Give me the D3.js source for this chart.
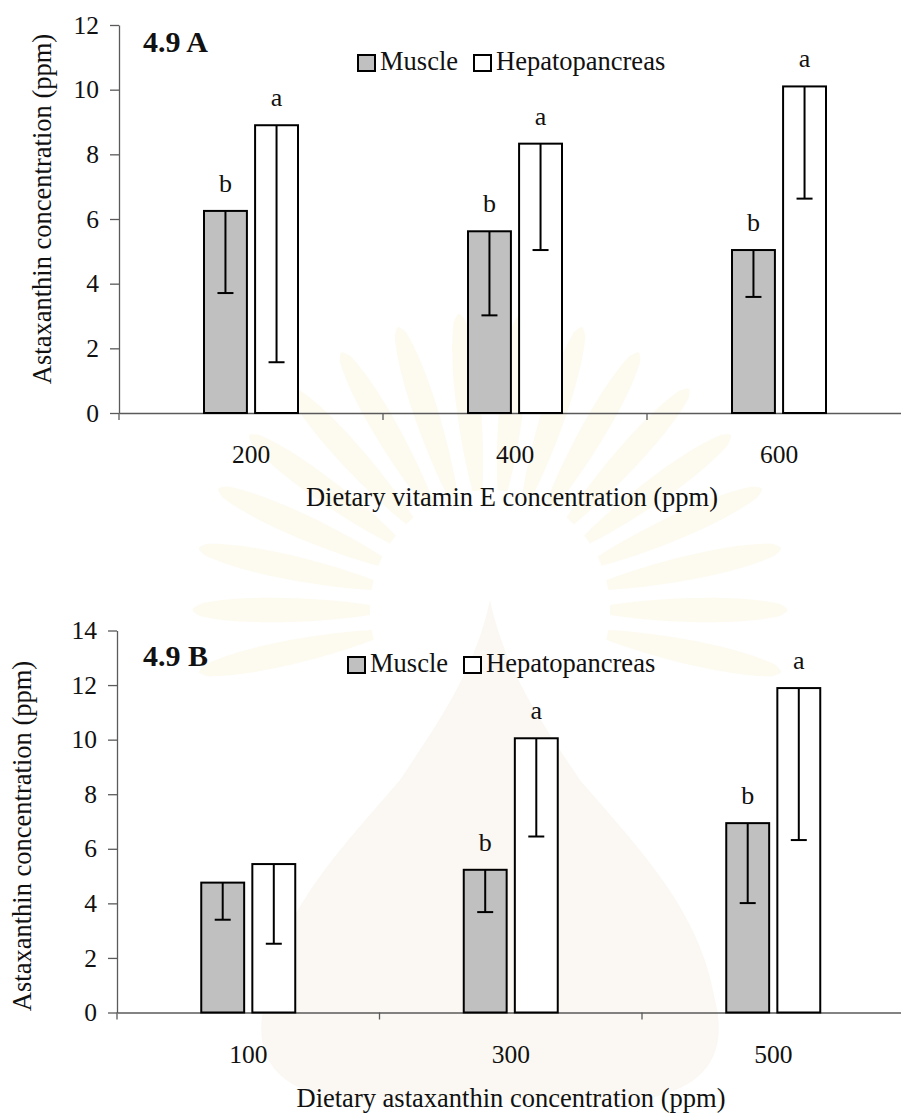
<!DOCTYPE html>
<html>
<head>
<meta charset="utf-8">
<script src="https://cdn.jsdelivr.net/npm/d3@7"></script>
<style>
body { margin: 0; background: #fff; }
svg { display: block; font-family: "Liberation Serif", "Times New Roman", serif; }
</style>
</head>
<body>
<svg id="chart" width="901" height="1115"></svg>
<script>
var series = ["Muscle", "Hepatopancreas"];

// 4.9 A : dietary vitamin E
var doseA = ["200", "400", "600"];
var muscleA = [6.25, 5.62, 5.04];
var muscleErrA = [2.54, 2.60, 1.45];
var hepatoA = [8.90, 8.33, 10.10];
var hepatoErrA = [7.33, 3.29, 3.47];
var muscleLetterA = ["b", "b", "b"];
var hepatoLetterA = ["a", "a", "a"];
var yTicksA = [0, 2, 4, 6, 8, 10, 12];

// 4.9 B : dietary astaxanthin
var doseB = ["100", "300", "500"];
var muscleB = [4.76, 5.23, 6.94];
var muscleErrB = [1.36, 1.55, 2.93];
var hepatoB = [5.44, 10.05, 11.89];
var hepatoErrB = [2.92, 3.60, 5.57];
var muscleLetterB = ["", "b", "b"];
var hepatoLetterB = ["", "a", "a"];
var yTicksB = [0, 2, 4, 6, 8, 10, 12, 14];

var fills = {"Muscle": "#c0c0c0", "Hepatopancreas": "#ffffff"};
var axisColor = "#5a5a5a";

var svg = d3.select("#chart");

// very faint watermark in the background
var wm = svg.append("g").attr("class", "watermark");
var cx = 490, cy = 610;
d3.range(-192, 15, 12).forEach(function (a) {
    wm.append("path")
        .attr("d", "M0,-5 C50,-13 130,-16 170,-6 C180,0 180,0 170,6 C130,16 50,13 0,5 Z")
        .attr("transform", "translate(" + cx + "," + cy + ")rotate(" + a + ")translate(120,0)")
        .attr("fill", "#fbf3dc")
        .attr("opacity", 0.45);
});
wm.append("path")
    .attr("d", "M490,600 C505,670 540,720 580,780 C640,850 700,910 715,1000 C730,1060 700,1090 640,1100 L340,1100 C280,1090 250,1060 265,1000 C280,910 340,850 400,780 C440,720 475,670 490,600 Z")
    .attr("fill", "#f7f3ea")
    .attr("opacity", 0.55);

function drawPanel(o) {
    var g = svg.append("g").attr("transform", "translate(" + o.left + "," + o.top + ")");

    var x = d3.scaleBand().domain(o.cats).range([0, o.band * o.cats.length]);
    var x1 = d3.scaleBand().domain(series).range([0, 94]).paddingInner(0.16);
    var y = d3.scaleLinear().domain([0, o.yMax]).range([o.height, 0]);
    var off = x.bandwidth() / 2 - 47;

    // y axis
    var ya = g.append("g")
        .call(d3.axisLeft(y).tickValues(o.yTicks).tickSize(9).tickSizeOuter(0).tickPadding(11));
    ya.select(".domain").attr("stroke", axisColor).attr("stroke-width", 1.3);
    ya.selectAll(".tick line").attr("stroke", axisColor).attr("stroke-width", 1.3);
    ya.selectAll(".tick text").attr("font-size", 25.5).attr("font-family", "Liberation Serif").attr("fill", "#111");

    // x axis
    var xa = g.append("g").attr("transform", "translate(0," + o.height + ")")
        .call(d3.axisBottom(x).tickSize(0).tickPadding(32));
    xa.select(".domain").attr("stroke", axisColor).attr("stroke-width", 1.3);
    xa.selectAll(".tick text").attr("font-size", 25.5).attr("font-family", "Liberation Serif").attr("fill", "#111");
    var edges = o.cats.map(function (c) { return x(c); }).concat([x.range()[1]]);
    xa.selectAll("line.edge").data(edges).enter().append("line")
        .attr("class", "edge")
        .attr("x1", function (d) { return d; }).attr("x2", function (d) { return d; })
        .attr("y1", 0).attr("y2", 7)
        .attr("stroke", axisColor).attr("stroke-width", 1.3);

    var rows = o.cats.map(function (c, i) {
        return [
            {cat: c, s: "Muscle", v: o.muscle[i], e: o.muscleErr[i], t: o.muscleLetter[i]},
            {cat: c, s: "Hepatopancreas", v: o.hepato[i], e: o.hepatoErr[i], t: o.hepatoLetter[i]}
        ];
    });
    var bars = d3.merge(rows);
    var bx = function (d) { return x(d.cat) + off + x1(d.s); };

    g.selectAll("rect.bar").data(bars).enter().append("rect")
        .attr("class", "bar")
        .attr("x", bx)
        .attr("y", function (d) { return y(d.v); })
        .attr("width", x1.bandwidth())
        .attr("height", function (d) { return y(0) - y(d.v); })
        .attr("fill", function (d) { return fills[d.s]; })
        .attr("stroke", "#000").attr("stroke-width", 2);

    // minus error bars
    var cxBar = function (d) { return bx(d) + x1.bandwidth() / 2; };
    g.selectAll("line.err").data(bars).enter().append("line")
        .attr("class", "err")
        .attr("x1", cxBar).attr("x2", cxBar)
        .attr("y1", function (d) { return y(d.v); })
        .attr("y2", function (d) { return y(d.v - d.e); })
        .attr("stroke", "#000").attr("stroke-width", 2);
    g.selectAll("line.cap").data(bars).enter().append("line")
        .attr("class", "cap")
        .attr("x1", function (d) { return cxBar(d) - 8; })
        .attr("x2", function (d) { return cxBar(d) + 8; })
        .attr("y1", function (d) { return y(d.v - d.e); })
        .attr("y2", function (d) { return y(d.v - d.e); })
        .attr("stroke", "#000").attr("stroke-width", 2);

    g.selectAll("text.sig").data(bars.filter(function (d) { return d.t; })).enter().append("text")
        .attr("class", "sig")
        .attr("x", cxBar)
        .attr("y", function (d) { return y(d.v) - 19; })
        .attr("text-anchor", "middle")
        .attr("font-size", 26)
        .attr("fill", "#111")
        .text(function (d) { return d.t; });

    // panel title
    svg.append("text")
        .attr("x", o.titleX).attr("y", o.titleY)
        .attr("font-size", 30).attr("font-weight", "bold")
        .attr("fill", "#111")
        .text(o.title);

    // legend
    var lg = svg.append("g").attr("transform", "translate(0," + o.legendY + ")");
    series.forEach(function (s, i) {
        lg.append("rect")
            .attr("x", o.legendX[i]).attr("y", -15)
            .attr("width", 17).attr("height", 16)
            .attr("fill", fills[s]).attr("stroke", "#000").attr("stroke-width", 2);
        lg.append("text")
            .attr("x", o.legendX[i] + 22).attr("y", 0)
            .attr("font-size", 26.5).attr("fill", "#111")
            .text(s);
    });

    // axis titles
    svg.append("text")
        .attr("x", o.xTitleX).attr("y", o.xTitleY)
        .attr("text-anchor", "middle")
        .attr("font-size", 26.5).attr("fill", "#111")
        .text(o.xTitle);
    svg.append("text")
        .attr("transform", "translate(" + o.yTitleX + "," + o.yTitleY + ")rotate(-90)")
        .attr("text-anchor", "middle")
        .attr("font-size", 26.5).attr("fill", "#111")
        .text("Astaxanthin concentration (ppm)");
}

drawPanel({
    left: 119, top: 25, height: 388, band: 264, yMax: 12, yTicks: yTicksA,
    cats: doseA, muscle: muscleA, muscleErr: muscleErrA, hepato: hepatoA, hepatoErr: hepatoErrA,
    muscleLetter: muscleLetterA, hepatoLetter: hepatoLetterA,
    title: "4.9 A", titleX: 143, titleY: 52,
    legendX: [358, 474], legendY: 70,
    xTitle: "Dietary vitamin E concentration (ppm)", xTitleX: 512, xTitleY: 506,
    yTitleX: 51, yTitleY: 209
});

drawPanel({
    left: 117, top: 630.5, height: 382, band: 262.5, yMax: 14, yTicks: yTicksB,
    cats: doseB, muscle: muscleB, muscleErr: muscleErrB, hepato: hepatoB, hepatoErr: hepatoErrB,
    muscleLetter: muscleLetterB, hepatoLetter: hepatoLetterB,
    title: "4.9 B", titleX: 143, titleY: 666,
    legendX: [348, 464], legendY: 672,
    xTitle: "Dietary astaxanthin concentration (ppm)", xTitleX: 511, xTitleY: 1107,
    yTitleX: 31, yTitleY: 836
});
</script>
</body>
</html>
